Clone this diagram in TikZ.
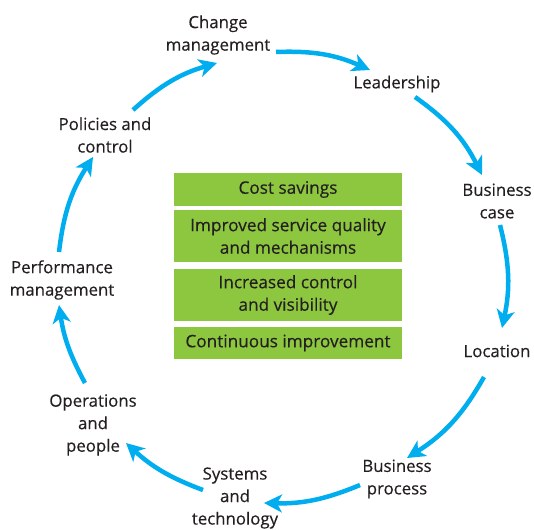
\documentclass[tikz,border=0pt]{standalone}
\usepackage{fontspec}
\setmainfont{Open Sans}[FakeBold=0.35]
\usetikzlibrary{arrows.meta}
\definecolor{txt}{RGB}{35,31,32}
\definecolor{cyanarrow}{RGB}{0,174,239}
\definecolor{boxgreen}{RGB}{141,198,63}
\tikzset{
  lbl/.style={align=center, text=txt, font=\fontsize{16.8}{22.5}\selectfont, inner sep=0pt},
  gbox/.style={fill=boxgreen, text=txt, align=center, minimum width=228pt, inner sep=0pt,
    font=\fontsize{17.2}{22.5}\selectfont},
  cyc/.style={draw=cyanarrow, line width=4.5pt, -{Stealth[length=18pt,width=18pt,inset=5pt]}}
}
\begin{document}
\begin{tikzpicture}[x=1pt,y=1pt]
\useasboundingbox (0,0) rectangle (534,-529);
% labels
\node[lbl] (chg) at (218,-35) {Change\\management};
\node[lbl] (lead) at (397,-84) {Leadership};
\node[lbl] (bcase) at (497,-201) {Business\\case};
\node[lbl] (loc) at (497,-351) {Location};
\node[lbl] (bproc) at (397,-479) {Business\\process};
\node[lbl] (sys) at (235,-498) {Systems\\and\\technology};
\node[lbl] (ops) at (93,-425) {Operations\\and\\people};
\node[lbl] (perf) at (62,-280) {Performance\\management};
\node[lbl] (pol) at (105,-135) {Policies and\\control};
% green boxes
\node[gbox, minimum height=33pt] (b1) at (288,-189.5) {Cost savings};
\node[gbox, minimum height=52pt] (b2) at (288,-236) {Improved service quality\\and mechanisms};
\node[gbox, minimum height=52pt] (b3) at (288,-295) {Increased control\\and visibility};
\node[gbox, minimum height=32pt] (b4) at (288,-343) {Continuous improvement};
% arrows
\draw[cyc] ([shift={(58,-17)}]chg.center) to[bend left=13] ([shift={(-27,14)}]lead.center);
\draw[cyc] ([shift={(18,-13)}]lead.center) to[bend left=14] ([shift={(-15,26)}]bcase.center);
\draw[cyc] ([shift={(3,-24)}]bcase.center) to[bend left=13] ([shift={(5,23)}]loc.center);
\draw[cyc] ([shift={(-13,-26)}]loc.center) to[bend left=14] ([shift={(10,21)}]bproc.center);
\draw[cyc] ([shift={(-37,-6)}]bproc.center) to[bend left=12] ([shift={(29,-5)}]sys.center);
\draw[cyc] ([shift={(-32,8)}]sys.center) to[bend left=11] ([shift={(33,-18)}]ops.center);
\draw[cyc] ([shift={(-8,42)}]ops.center) to[bend left=10] ([shift={(-3,-25)}]perf.center);
\draw[cyc] ([shift={(-3,28)}]perf.center) to[bend left=13] ([shift={(-12,-22)}]pol.center);
\draw[cyc] ([shift={(28,25)}]pol.center) to[bend left=13] ([shift={(-1,-28)}]chg.center);
\end{tikzpicture}
\end{document}
